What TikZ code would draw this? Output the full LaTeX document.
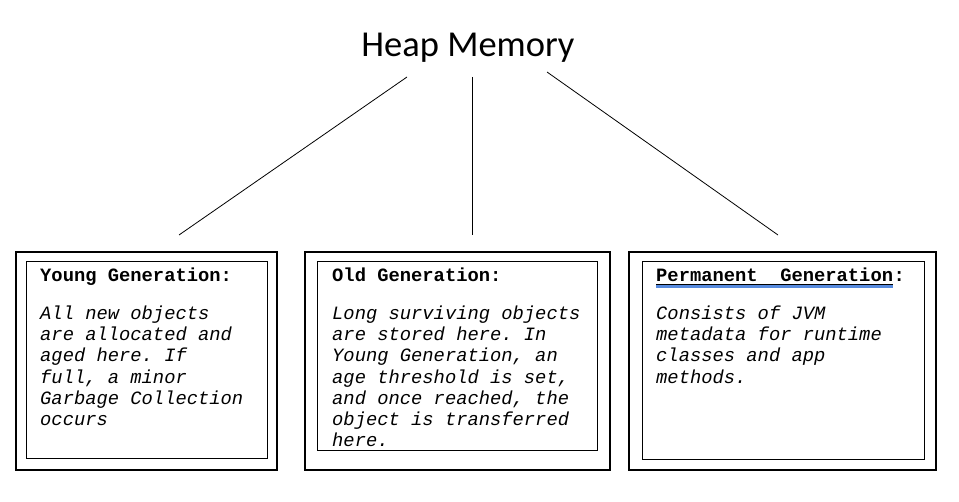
\documentclass[tikz,border=0pt]{standalone}
\usepackage{fontspec}
\newfontfamily\monofam{Liberation Mono}
\newfontfamily\heapfont{Carlito}
\definecolor{spellblue}{RGB}{86,138,222}
\frenchspacing
\tikzset{
  outerbox/.style={draw, line width=2pt, inner sep=0pt, anchor=north west},
  innerbox/.style={draw, line width=1pt, inner sep=0pt, anchor=north west},
  title/.style={anchor=base west, inner sep=0pt, font=\monofam\bfseries\fontsize{18.8}{21.2}\selectfont},
  body/.style={anchor=base west, inner sep=0pt, font=\monofam\itshape\fontsize{18.8}{21.2}\selectfont},
  conn/.style={line width=0.8pt}
}
\newcommand{\bodytext}[1]{\parbox[t]{280pt}{\raggedright\frenchspacing #1}}
\begin{document}
\begin{tikzpicture}[x=1pt,y=-1pt]
\useasboundingbox (0,0) rectangle (959,502);

\node[anchor=base, inner sep=0pt, font=\heapfont\fontsize{36.5}{40}\selectfont] (heap) at (468,57) {Heap Memory};

% connectors
\coordinate (c1a) at (407,77);
\coordinate (c1b) at (179,235);
\coordinate (c2a) at (472,77);
\coordinate (c2b) at (472,235);
\coordinate (c3a) at (547,72);
\coordinate (c3b) at (778,235);
\draw[conn] (c1a) -- (c1b);
\draw[conn] (c2a) -- (c2b);
\draw[conn] (c3a) -- (c3b);

% boxes
\node[outerbox, minimum width=261pt, minimum height=218pt] (o1) at (15,251) {};
\node[innerbox, minimum width=241pt, minimum height=197pt] (i1) at (25.5,261.5) {};
\node[outerbox, minimum width=305pt, minimum height=218pt] (o2) at (304,251) {};
\node[innerbox, minimum width=280pt, minimum height=189pt] (i2) at (317,261.5) {};
\node[outerbox, minimum width=307pt, minimum height=218pt] (o3) at (628,251) {};
\node[innerbox, minimum width=282pt, minimum height=198pt] (i3) at (642,261.5) {};

% texts
\node[title] (t1) at (40,281.5) {Young Generation:};
\node[body] (b1) at (40,319.5) {\bodytext{All new objects\\are allocated and\\aged here. If\\full, a minor\\Garbage Collection\\occurs}};

\node[title] (t2) at (332,281.5) {Old Generation:};
\node[body] (b2) at (332,319.5) {\bodytext{Long surviving objects\\are stored here. In\\Young Generation, an\\age threshold is set,\\and once reached, the\\object is transferred\\here.}};

\node[title] (t3) at (656,281.5) {Permanent\ \ Generation};
\node[title, anchor=base west] (t3c) at (t3.base east) {:};
\draw[line width=0.9pt] ([yshift=-3.4pt]t3.base west) -- ([yshift=-3.4pt]t3.base east);
\draw[spellblue, line width=2.6pt] ([yshift=-5.1pt]t3.base west) -- ([yshift=-5.1pt]t3.base east);
\node[body] (b3) at (656,319.5) {\bodytext{Consists of JVM\\metadata for runtime\\classes and app\\methods.}};
\end{tikzpicture}
\end{document}
